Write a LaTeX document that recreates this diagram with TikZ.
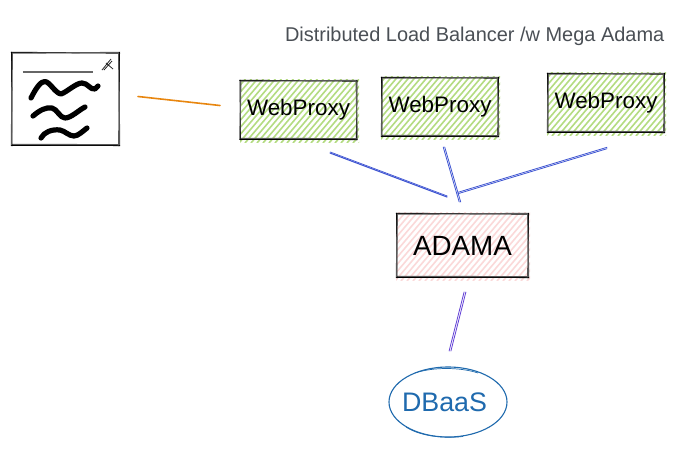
\documentclass[tikz,border=0pt]{standalone}
\usepackage{fontspec}
\setmainfont{Liberation Sans}
\usetikzlibrary{calc,shapes.geometric}
\definecolor{hatchgreen}{HTML}{B4DC82}
\definecolor{hatchpink}{HTML}{FBD9D9}
\definecolor{linkorange}{HTML}{E8860F}
\definecolor{linkblue}{HTML}{3F55D2}
\definecolor{linkpurple}{HTML}{6240D6}
\definecolor{dbblue}{HTML}{1F6AAE}
\definecolor{titlegray}{HTML}{4A4F55}
\tikzset{
  boxnode/.style={rectangle,inner sep=0pt,text=black},
  proxy/.style={boxnode,minimum width=116pt,minimum height=58pt,font=\fontsize{22.4}{26}\selectfont},
  adama/.style={boxnode,minimum width=131pt,minimum height=63pt,font=\fontsize{27.8}{32}\selectfont},
  dbnode/.style={ellipse,inner sep=0pt,minimum width=118pt,minimum height=70pt,text=dbblue,font=\fontsize{26.8}{31}\selectfont},
  pen/.style={draw=black,line width=1pt},
  softpen/.style={draw=black!65,line width=1.1pt},
  link/.style={line width=0.8pt,line cap=round},
  squiggle/.style={draw=black,line width=5.2pt,line cap=round,line join=round},
}
% hatching inside a rectangle: x1,y1,x2,y2,colour,width
\newcommand{\hatchfill}[6]{%
  \begin{scope}
    \clip (#1-1,#2-2) rectangle (#3+2,#4+3);
    \pgfmathsetmacro{\hh}{#4-#2+6}
    \foreach \hx in {-80,-74,...,140}{
      \draw[#5,line width=#6pt] (#1+\hx,#4+4) -- ++(\hh*0.85,-\hh);
    }
  \end{scope}}
% hand-drawn outline around a named rectangle node
\newcommand{\sketchedge}[1]{%
  \draw[pen] ($(#1.north west)+(-1,-0.5)$) -- ($(#1.north east)+(1,0.3)$);
  \draw[softpen] ($(#1.north west)+(0,0.4)$) -- ($(#1.north east)+(0,-0.4)$);
  \draw[pen] ($(#1.north east)+(0.3,-1)$) -- ($(#1.south east)+(-0.3,1)$);
  \draw[softpen] ($(#1.north east)+(-0.6,0)$) -- ($(#1.south east)+(0.5,0)$);
  \draw[pen] ($(#1.south east)+(1,0.3)$) -- ($(#1.south west)+(-1,0.2)$);
  \draw[softpen] ($(#1.south east)+(0,-0.5)$) -- ($(#1.south west)+(0,-0.9)$);
  \draw[pen] ($(#1.south west)+(0.2,1)$) -- ($(#1.north west)+(-0.2,-1)$);
  \draw[softpen] ($(#1.south west)+(-0.5,0)$) -- ($(#1.north west)+(0.6,0)$);
}
\begin{document}
\begin{tikzpicture}[x=1pt,y=-1pt]
\useasboundingbox (0,0) rectangle (675,451);
\fill[white] (0,0) rectangle (675,451);

% title
\node[anchor=east,text=titlegray,inner sep=0pt,font=\fontsize{19.95}{24}\selectfont] (title) at (664.5,36.5) {Distributed Load Balancer /w Mega Adama};

% hatching
\hatchfill{241}{81}{357}{139}{hatchgreen}{1.6}
\hatchfill{382}{78}{498}{136}{hatchgreen}{1.6}
\hatchfill{548}{74}{664}{132}{hatchgreen}{1.6}
\hatchfill{397}{214}{528}{277}{hatchpink}{1.6}

% nodes
\node[proxy] (wp1) at (298.5,110) {\raisebox{4pt}{WebProxy}};
\node[proxy] (wp2) at (440,107) {\raisebox{4pt}{WebProxy}};
\node[proxy] (wp3) at (606,103) {\raisebox{4pt}{WebProxy}};
\node[adama] (adama) at (462.5,245.5) {ADAMA};
\node[dbnode] (dbaas) at (448,402) {\hspace{-7pt}DBaaS};
\node[rectangle,inner sep=0pt,minimum width=107pt,minimum height=92pt] (client) at (65.5,99) {};

\sketchedge{wp1}
\sketchedge{wp2}
\sketchedge{wp3}
\sketchedge{adama}
\sketchedge{client}

% ellipse outline, sketched
\draw[dbblue,line width=1.1pt] (dbaas.center) ++(-59,0) arc[start angle=180,end angle=540,x radius=59,y radius=35];
\draw[dbblue,line width=0.7pt] ($(dbaas.center)+(-33,-29)$) .. controls ($(dbaas.center)+(-15,-35)$) and ($(dbaas.center)+(12,-35)$) .. ($(dbaas.center)+(30,-29)$);
\draw[dbblue,line width=0.7pt] ($(dbaas.center)+(-42,25)$) .. controls ($(dbaas.center)+(-30,33)$) and ($(dbaas.center)+(-8,37)$) .. ($(dbaas.center)+(15,34.5)$);

% window sketch contents
\coordinate (titlebarL) at ($(client.north west)+(11,19)$);
\coordinate (titlebarR) at ($(client.north west)+(81.5,19)$);
\draw[draw=black!60,line width=1.4pt] (titlebarL) -- (titlebarR);
\draw[squiggle] (31,98) .. controls (36,88) and (41,81) .. (45,81.5) .. controls (50,82) and (55,93) .. (61,94) .. controls (67,92) and (76,83) .. (82,83) .. controls (88,83) and (90,90) .. (95,89) -- (98,86);
\draw[squiggle] (33,116) .. controls (40,110) and (46,107) .. (52,108) .. controls (57,109) and (60,118) .. (65,118) .. controls (71,118) and (79,110) .. (85,107);
\draw[squiggle] (41,138) .. controls (44,132) and (52,129) .. (60,130) .. controls (65,131) and (69,136) .. (74,136) .. controls (78,136) and (83,131) .. (87,128);
\draw[black!85,line width=0.8pt] (102,70) -- (111,59) (104,70) -- (112,61) (106,63) -- (113,69);

% connector end points
\coordinate (o1) at (138,96.5);
\coordinate (o2) at (220,105.5);
\coordinate (b1s) at (330,153);
\coordinate (b1e) at (447,197);
\coordinate (b2s) at (444,147);
\coordinate (b2e) at (460,202);
\coordinate (b3s) at (607,148);
\coordinate (b3e) at (458,193);
\coordinate (p1) at (465,292);
\coordinate (p2) at (450,351);

% connectors
\draw[link,linkorange,line width=1.6pt] (o1) -- (o2);
\draw[link,linkblue,line width=1.1pt] (b1s) -- (b1e);
\draw[link,linkblue,line width=0.7pt] ($(b1s)+(0.3,-1)$) -- ($(b1e)+(0.3,-1)$);
\draw[link,linkblue] ($(b2s)+(-0.8,0)$) -- ($(b2e)+(-0.8,0)$);
\draw[link,linkblue] ($(b2s)+(0.7,0)$) -- ($(b2e)+(0.7,0)$);
\draw[link,linkblue] ($(b3s)+(0,-0.7)$) -- ($(b3e)+(0,-0.7)$);
\draw[link,linkblue] ($(b3s)+(0,0.7)$) -- ($(b3e)+(0,0.7)$);
\draw[link,linkpurple] ($(p1)+(-0.9,0)$) -- ($(p2)+(-0.9,0)$);
\draw[link,linkpurple] ($(p1)+(0.9,0)$) -- ($(p2)+(0.9,0)$);
\end{tikzpicture}
\end{document}
